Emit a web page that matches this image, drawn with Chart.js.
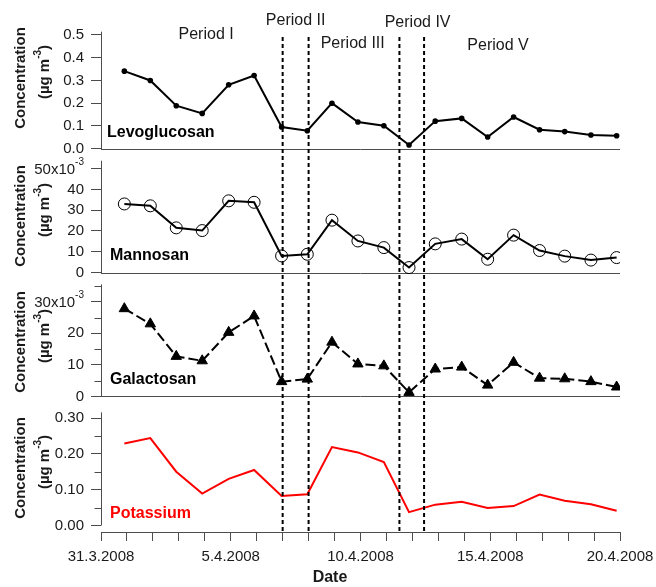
<!DOCTYPE html>
<html>
<head>
  <title>Anhydrosugars and potassium</title>
  <script src="https://cdn.jsdelivr.net/npm/chart.js"></script>
  <style>
    body { margin: 0; background: #fff; }
    #chartBox { width: 656px; height: 587px; }
  </style>
</head>
<body>
  <div id="chartBox"><canvas id="chart_sugars" width="656" height="587"></canvas></div>

  <script>
    // sample positions, in days after 31.3.2008 00:00
    const sampleDays = [0.9, 1.9, 2.9, 3.9, 4.92, 5.9, 6.96, 7.95, 8.9, 9.9, 10.9, 11.87, 12.88, 13.9, 14.9, 15.9, 16.9, 17.87, 18.88, 19.87];

    // concentrations (µg m-3; mannosan and galactosan in 10^-3 µg m-3)
    const levoglucosan = [0.341, 0.300, 0.189, 0.155, 0.281, 0.322, 0.095, 0.079, 0.200, 0.117, 0.101, 0.016, 0.121, 0.133, 0.051, 0.139, 0.083, 0.075, 0.060, 0.057];
    const mannosan = [33.0, 32.1, 21.5, 20.2, 34.5, 33.8, 8.0, 8.8, 25.2, 15.2, 12.0, 2.4, 13.8, 16.1, 6.4, 18.0, 10.6, 7.9, 6.0, 7.2];
    const galactosan = [27.8, 23.0, 12.7, 11.3, 20.3, 25.5, 4.7, 5.5, 17.2, 10.3, 9.7, 1.3, 8.7, 9.3, 3.6, 10.8, 5.8, 5.6, 4.7, 3.0];
    const potassium = [0.229, 0.244, 0.150, 0.089, 0.130, 0.155, 0.082, 0.087, 0.219, 0.204, 0.177, 0.037, 0.058, 0.066, 0.049, 0.054, 0.086, 0.069, 0.059, 0.041];

    // x axis ticks
    const dateTickDays = [0, 5, 10, 15, 20];
    const dateTickLabels = ['31.3.2008', '5.4.2008', '10.4.2008', '15.4.2008', '20.4.2008'];

    // y axis ticks
    const levoTicks = [0, 0.1, 0.2, 0.3, 0.4, 0.5];
    const mannosanTicks = [0, 10, 20, 30, 40, 50];
    const galactosanTicks = [0, 10, 20, 30];
    const galactosanMinor = [5, 15, 25, 35];
    const potassiumTicks = [0, 0.1, 0.2, 0.3];
    const potassiumMinor = [0.05, 0.15, 0.25];

    // period borders (days after 31.3.2008) and names
    const periodBounds = [7.0, 8.0, 11.5, 12.45];
    const periodNames = ['Period I', 'Period II', 'Period III', 'Period IV', 'Period V'];

    const axisColor = '#4d4d4d';
    const textColor = '#1a1a1a';
    const fontFamily = 'Arial, "Liberation Sans", sans-serif';

    function points(values) {
      return values.map((v, i) => ({ x: sampleDays[i], y: v }));
    }

    // one stacked panel axis
    function panelScale(min, max, weight, ticks, fmt) {
      return {
        type: 'linear',
        position: 'left',
        stack: 'panels',
        stackWeight: weight,
        min: min,
        max: max,
        bounds: 'data',
        border: { display: false },
        grid: { drawOnChartArea: false, drawTicks: true, tickLength: 10, color: axisColor },
        ticks: { autoSkip: false, padding: 7, color: textColor, font: { family: fontFamily, size: 15 }, callback: fmt },
        afterBuildTicks: s => { s.ticks = ticks.map(v => ({ value: v })); },
        afterFit: s => { s.width = 101; }
      };
    }

    const panels = [
      { id: 'yLevo', top: 0.5145, minor: [], name: 'Levoglucosan', color: '#000', zero: true, titleY: 78, sci: null },
      { id: 'yMann', top: 53.8, minor: [], name: 'Mannosan', color: '#000', zero: true, titleY: 216, sci: 50 },
      { id: 'yGala', top: 35.5, minor: galactosanMinor, name: 'Galactosan', color: '#000', zero: true, titleY: 342, sci: 30 },
      { id: 'yPota', top: 0.316, minor: potassiumMinor, name: 'Potassium', color: '#ff0000', zero: false, titleY: 468, sci: null }
    ];

    function drawUnit(ctx, x, y) {
      // "(µg m-3)" rotated, with a raised -3
      ctx.save();
      ctx.translate(x, y);
      ctx.rotate(-Math.PI / 2);
      ctx.textBaseline = 'alphabetic';
      ctx.textAlign = 'left';
      const big = 'bold 15px ' + fontFamily;
      const small = 'bold 10px ' + fontFamily;
      ctx.font = big;
      const w1 = ctx.measureText('(µg m').width;
      const w3 = ctx.measureText(')').width;
      ctx.font = small;
      const w2 = ctx.measureText('-3').width;
      let sx = -(w1 + w2 + w3) / 2;
      ctx.font = big;
      ctx.fillText('(µg m', sx, 5);
      ctx.font = small;
      ctx.fillText('-3', sx + w1, -3);
      ctx.font = big;
      ctx.fillText(')', sx + w1 + w2, 5);
      ctx.restore();
    }

    const decorations = {
      id: 'decorations',
      beforeDatasetsDraw(chart) {
        const ctx = chart.ctx;
        const area = chart.chartArea;
        const left = Math.round(area.left) + 0.5;
        ctx.save();
        ctx.strokeStyle = axisColor;
        ctx.lineWidth = 1;
        panels.forEach(p => {
          const s = chart.scales[p.id];
          const y0 = s.getPixelForValue(0);
          const yTop = s.getPixelForValue(p.top);
          ctx.beginPath();
          ctx.moveTo(left, Math.round(y0) + 0.5);
          ctx.lineTo(left, yTop);
          ctx.stroke();
          if (p.zero) {
            ctx.beginPath();
            ctx.moveTo(area.left, Math.round(y0) + 0.5);
            ctx.lineTo(area.right, Math.round(y0) + 0.5);
            ctx.stroke();
          }
          p.minor.forEach(v => {
            const y = Math.round(s.getPixelForValue(v)) + 0.5;
            ctx.beginPath();
            ctx.moveTo(left - 7, y);
            ctx.lineTo(left, y);
            ctx.stroke();
          });
        });
        ctx.restore();
      },
      afterDatasetsDraw(chart) {
        const ctx = chart.ctx;
        const area = chart.chartArea;
        const xs = chart.scales.x;
        ctx.save();

        // period borders
        ctx.strokeStyle = '#000';
        ctx.lineWidth = 2;
        ctx.setLineDash([4, 3]);
        periodBounds.forEach(d => {
          const x = xs.getPixelForValue(d);
          ctx.beginPath();
          ctx.moveTo(x, 37);
          ctx.lineTo(x, area.bottom);
          ctx.stroke();
        });
        ctx.setLineDash([]);

        // period names
        const nameDays = [4.05, 7.5, 9.7, 12.2, 15.3];
        const nameY = [35, 21, 44, 23, 46];
        ctx.fillStyle = textColor;
        ctx.font = '16px ' + fontFamily;
        ctx.textAlign = 'center';
        ctx.textBaseline = 'middle';
        periodNames.forEach((n, i) => {
          ctx.fillText(n, xs.getPixelForValue(nameDays[i]), nameY[i]);
        });

        // series names inside the panels
        ctx.textAlign = 'left';
        ctx.font = 'bold 16px ' + fontFamily;
        const nameYs = [133, 256, 380, 514];
        panels.forEach((p, i) => {
          ctx.fillStyle = p.color;
          ctx.fillText(p.name, i === 0 ? 107 : 110, nameYs[i]);
        });

        // y titles
        ctx.fillStyle = textColor;
        panels.forEach(p => {
          ctx.save();
          ctx.translate(20.5, p.titleY);
          ctx.rotate(-Math.PI / 2);
          ctx.textAlign = 'center';
          ctx.textBaseline = 'middle';
          ctx.font = 'bold 15px ' + fontFamily;
          ctx.fillText('Concentration', 0, 0);
          ctx.restore();
          drawUnit(ctx, 44, p.titleY - 6);
        });

        // x10^-3 top labels
        panels.forEach(p => {
          if (p.sci === null) return;
          const y = chart.scales[p.id].getPixelForValue(p.sci);
          ctx.textAlign = 'right';
          ctx.textBaseline = 'middle';
          ctx.font = '10px ' + fontFamily;
          const wSup = ctx.measureText('-3').width;
          ctx.fillText('-3', 84, y - 6);
          ctx.font = '15px ' + fontFamily;
          ctx.fillText(p.sci + 'x10', 84 - wSup, y + 1);
        });

        // x title
        ctx.textAlign = 'center';
        ctx.font = 'bold 16px ' + fontFamily;
        ctx.fillText('Date', 330, 578);
        ctx.restore();
      }
    };

    const ctx = document.getElementById('chart_sugars').getContext('2d');
    new Chart(ctx, {
      type: 'line',
      data: {
        datasets: [
          {
            label: 'Potassium', yAxisID: 'yPota', data: points(potassium),
            borderColor: '#ff0000', borderWidth: 2, pointRadius: 0, tension: 0
          },
          {
            label: 'Galactosan', yAxisID: 'yGala', data: points(galactosan),
            borderColor: '#000', borderWidth: 2, borderDash: [10, 4], tension: 0,
            pointStyle: 'triangle', pointRadius: 6, pointBackgroundColor: '#000', pointBorderColor: '#000', pointBorderWidth: 1
          },
          {
            label: 'Mannosan', yAxisID: 'yMann', data: points(mannosan),
            borderColor: '#000', borderWidth: 2, tension: 0,
            pointRadius: 6, pointBackgroundColor: 'rgba(0,0,0,0)', pointBorderColor: '#000', pointBorderWidth: 1
          },
          {
            label: 'Levoglucosan', yAxisID: 'yLevo', data: points(levoglucosan),
            borderColor: '#000', borderWidth: 2, tension: 0,
            pointRadius: 2.8, pointBackgroundColor: '#000', pointBorderWidth: 0
          }
        ]
      },
      options: {
        responsive: false,
        animation: false,
        devicePixelRatio: 1,
        layout: { padding: { top: 31.7, right: 36, bottom: 0, left: 0 } },
        plugins: { legend: { display: false }, tooltip: { enabled: false } },
        scales: {
          x: {
            type: 'linear',
            position: 'bottom',
            min: 0,
            max: 20,
            border: { color: axisColor },
            grid: { drawOnChartArea: false, tickLength: 9, color: axisColor },
            ticks: {
              autoSkip: false, maxRotation: 0, padding: 1, color: textColor,
              font: { family: fontFamily, size: 15, lineHeight: 2 },
              callback: v => {
                const i = dateTickDays.indexOf(v);
                return i >= 0 ? dateTickLabels[i] : '';
              }
            },
            afterBuildTicks: s => { s.ticks = Array.from({ length: 21 }, (_, i) => ({ value: i })); },
            afterFit: s => { s.height = 55; }
          },
          // declared bottom panel first: later stacked axes go on top
          yPota: panelScale(-0.0184, 0.3399, 128.3, potassiumTicks, v => v.toFixed(2)),
          yGala: panelScale(-2.31, 37.56, 126, galactosanTicks, v => v === 30 ? '' : String(v)),
          yMann: panelScale(-2.55, 58.03, 126, mannosanTicks, v => v === 50 ? '' : String(v)),
          yLevo: panelScale(-0.0145, 0.5145, 120.3, levoTicks, v => v.toFixed(1))
        }
      },
      plugins: [decorations]
    });
  </script>
</body>
</html>
